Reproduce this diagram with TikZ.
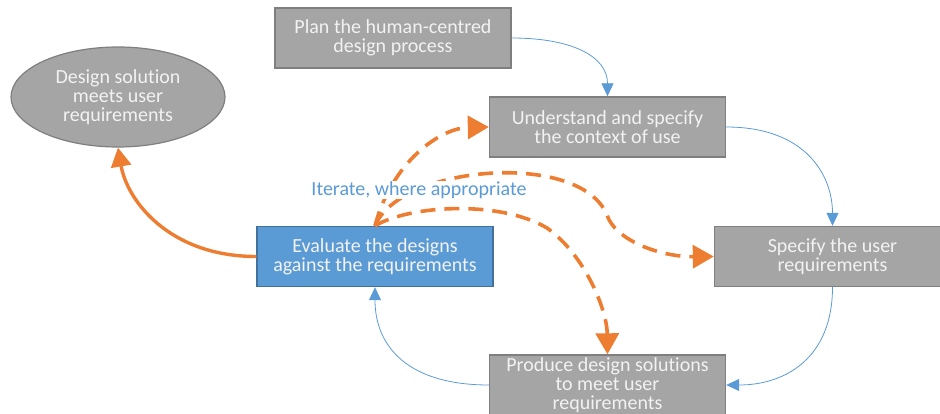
\documentclass[tikz,border=0pt]{standalone}
\usepackage{fontspec}
\setmainfont{Carlito}[Ligatures=NoCommon]
\usetikzlibrary{arrows.meta,shapes.geometric}
\definecolor{boxgray}{HTML}{A5A5A5}
\definecolor{boxline}{HTML}{7F7F7F}
\definecolor{evalblue}{HTML}{5B9BD5}
\definecolor{evalline}{HTML}{41719C}
\definecolor{txtwhite}{HTML}{F2F2F2}
\definecolor{iterorange}{HTML}{ED7D31}
\tikzset{
  graybox/.style={draw=boxline, fill=boxgray, line width=1.4pt, minimum width=236pt, minimum height=60pt, inner sep=0pt, align=center, text=txtwhite, font=\fontsize{20}{19}\selectfont},
  bluebox/.style={graybox, draw=evalline, fill=evalblue},
  goalell/.style={ellipse, draw=boxline, fill=boxgray, line width=1.2pt, minimum width=214pt, minimum height=100pt, inner sep=0pt, align=center, text=txtwhite, font=\fontsize{20}{19}\selectfont},
  flow/.style={draw=evalblue, line width=0.8pt, -{Triangle[length=13pt,width=12pt]}},
  iterdash/.style={draw=iterorange, line width=3.6pt, dash pattern=on 15pt off 9pt, -{Triangle[length=21pt,width=23pt]}},
  done/.style={draw=iterorange, line width=3.4pt, -{Triangle[length=19pt,width=20pt]}},
  note/.style={text=evalblue, fill=white, font=\fontsize{20}{19}\selectfont, inner xsep=1pt, inner ysep=0pt}
}
\begin{document}
\begin{tikzpicture}[x=1pt,y=-1pt]
\useasboundingbox (0,0) rectangle (940,414);
\clip (0,0) rectangle (940,414);
\node[graybox] (plan) at (393,38) {Plan the human-centred\\design process};
\node[graybox] (under) at (607.5,127) {Understand and specify\\the context of use};
\node[graybox] (spec) at (832.5,256.5) {Specify the user\\requirements};
\node[graybox] (prod) at (607.5,385) {Produce design solutions\\to meet user\\requirements};
\node[bluebox] (eval) at (375,256.5) {Evaluate the designs\\against the requirements};
\node[goalell] (goal) at (118,97) {Design solution\\meets user\\requirements};
\coordinate (bend) at (607,215);
\coordinate (mid) at (547,228);

\draw[flow] (plan.east) .. controls +(60,0) and +(0,-40) .. (under.north);
\draw[flow] (under.east) .. controls +(80,0) and +(0,-50) .. (spec.north);
\draw[flow] (spec.south) .. controls +(0,70) and +(60,0) .. (prod.east);
\draw[flow] (prod.west) .. controls +(-80,0) and +(0,60) .. (eval.south);

\draw[done] (eval.west) .. controls +(-87,0) and +(9,53) .. (goal.south);

\draw[iterdash] (eval.north) .. controls (392,162) and (440,128) .. (under.west);
\draw[iterdash] (eval.north) .. controls (400,165) and (580,150) .. (bend) .. controls (615,240) and (660,257) .. (spec.west);
\draw[iterdash] (eval.north) .. controls (410,205) and (500,200) .. (mid) .. controls (585,255) and (607,310) .. (prod.north);
\node[note] (iter) at (419,190) {Iterate, where appropriate};
\end{tikzpicture}
\end{document}
